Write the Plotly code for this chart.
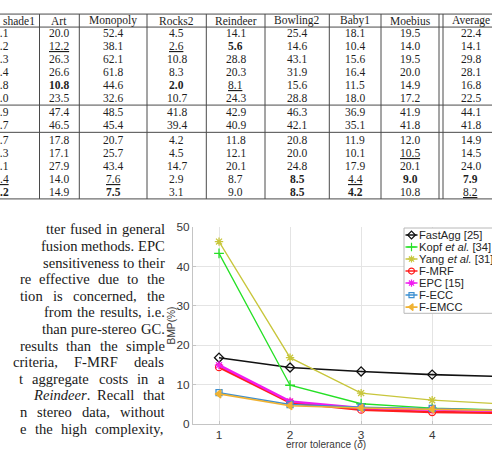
import plotly.graph_objects as go

W, H = 492, 456

# ---------------- chart data ----------------
tolerance = [1, 2, 3, 4, 5]
fastagg = [16.8, 14.3, 13.3, 12.5, 12.0]
kopf = [43.3, 9.8, 5.1, 4.0, 3.5]
yang = [46.3, 16.8, 7.8, 6.0, 5.05]
f_mrf = [14.4, 5.4, 3.6, 3.0, 2.75]
epc = [14.9, 5.7, 4.0, 3.7, 3.25]
f_ecc = [7.9, 4.9, 4.2, 3.9, 3.45]
f_emcc = [7.6, 4.6, 4.0, 3.7, 3.35]
series_names = ["FastAgg [25]", "Kopf <i>et al.</i> [34]", "Yang <i>et al.</i> [31]",
                "F-MRF", "EPC [15]", "F-ECC", "F-EMCC"]
x_ticks = [1, 2, 3, 4, 5]
y_ticks = [0, 10, 20, 30, 40, 50]
x_title = "error tolerance (<i>δ</i>)"
y_title = "BMP(%)"

# ---------------- table data ----------------
table_header = ["shade1", "Art", "Monopoly", "Rocks2", "Reindeer", "Bowling2", "Baby1", "Moebius", "Average"]
col_shade1 = ["5.1", "5.2", "2.3", "9.4", "6.8", "5.0", "6.9", "5.7", "0.7", "6.3", "5.1", ".4", ".2"]
col_art = ["20.0", "12.2", "26.3", "26.6", "10.8", "23.5", "47.4", "46.5", "17.8", "17.1", "27.9", "14.0", "14.9"]
col_monopoly = ["52.4", "38.1", "62.1", "61.8", "44.6", "32.6", "48.5", "45.4", "20.7", "25.7", "43.4", "7.6", "7.5"]
col_rocks2 = ["4.5", "2.6", "10.8", "8.3", "2.0", "10.7", "41.8", "39.4", "4.2", "4.5", "14.7", "2.9", "3.1"]
col_reindeer = ["14.1", "5.6", "28.8", "20.3", "8.1", "24.3", "42.9", "40.9", "11.8", "12.1", "20.1", "8.7", "9.0"]
col_bowling2 = ["25.4", "14.6", "43.1", "31.9", "15.6", "28.8", "46.3", "42.1", "20.8", "20.0", "24.8", "8.5", "8.5"]
col_baby1 = ["18.1", "10.4", "15.6", "16.4", "11.5", "18.0", "36.9", "35.1", "11.9", "10.1", "17.9", "4.4", "4.2"]
col_moebius = ["19.5", "14.0", "19.5", "20.0", "14.9", "17.2", "41.9", "41.8", "12.0", "10.5", "20.1", "9.0", "10.8"]
col_average = ["22.4", "14.1", "29.8", "28.1", "16.8", "22.5", "44.1", "41.8", "14.9", "14.5", "24.0", "7.9", "8.2"]
table_cols = [col_shade1, col_art, col_monopoly, col_rocks2, col_reindeer,
              col_bowling2, col_baby1, col_moebius, col_average]

# ---------------- paragraph text (visible part) ----------------
paragraph = [
    "tter fused in general",
    "fusion methods. EPC",
    "sensitiveness to their",
    "re effective due to the",
    "tion is concerned, the",
    "from the results, i.e.",
    "than pure-stereo GC.",
    "results than the simple",
    "criteria, F-MRF deals",
    "t aggregate costs in a",
    "<i>Reindeer</i>. Recall that",
    "n stereo data, without",
    "e the high complexity,",
]

# ================= styling / layout constants =================
def fx(px):
    return px / W


def fy(py):
    return 1 - py / H


SANS = "Liberation Sans, Arial, Helvetica, sans-serif"
SERIF = "Liberation Serif, Times New Roman, serif"

styles = [
    dict(color="#111111", width=1.6, symbol="diamond-open", size=7),
    dict(color="#26e026", width=1.3, symbol="cross-thin-open", size=7),
    dict(color="#c8c63c", width=1.3, symbol="asterisk-open", size=7),
    dict(color="#ff1e1e", width=2.5, symbol="circle-open", size=7),
    dict(color="#f01cf0", width=2.5, symbol="asterisk-open", size=7),
    dict(color="#3d8fd0", width=1.6, symbol="square-open", size=6),
    dict(color="#f0b232", width=1.6, symbol="triangle-left", size=7),
]
series = [fastagg, kopf, yang, f_mrf, epc, f_ecc, f_emcc]

fig = go.Figure()

for vals, name, st in zip(series, series_names, styles):
    fig.add_trace(go.Scatter(
        x=tolerance, y=vals, mode="lines+markers", name=name, showlegend=False,
        line=dict(color=st["color"], width=st["width"]),
        marker=dict(symbol=st["symbol"], size=st["size"], color=st["color"],
                    line=dict(color=st["color"], width=1.3)),
        xaxis="x", yaxis="y",
    ))

# ---- custom legend (pixel-unit overlay axes) ----
LEG_L, LEG_R, LEG_T, LEG_B = 404, 530, 228, 316
ROW0, ROWH = 235.2, 12.4
SAMP_L, SAMP_R, TEXT_X = 405.5, 417.5, 418
fig.add_trace(go.Scatter(
    x=[LEG_L, LEG_R, LEG_R, LEG_L, LEG_L], y=[LEG_T, LEG_T, LEG_B, LEG_B, LEG_T],
    mode="lines", fill="toself", fillcolor="white",
    line=dict(color="#b8b8b8", width=1), hoverinfo="skip", showlegend=False,
    xaxis="x2", yaxis="y2"))
for i, (name, st) in enumerate(zip(series_names, styles)):
    yy = ROW0 + ROWH * i
    fig.add_trace(go.Scatter(
        x=[SAMP_L, SAMP_R], y=[yy, yy], mode="lines",
        line=dict(color=st["color"], width=min(st["width"], 1.6)),
        hoverinfo="skip", showlegend=False, xaxis="x2", yaxis="y2"))
    fig.add_trace(go.Scatter(
        x=[(SAMP_L + SAMP_R) / 2], y=[yy], mode="markers",
        marker=dict(symbol=st["symbol"], size=st["size"] - 1, color=st["color"],
                    line=dict(color=st["color"], width=1.2)),
        hoverinfo="skip", showlegend=False, xaxis="x2", yaxis="y2"))
    fig.add_annotation(x=fx(TEXT_X), y=fy(yy), xref="paper", yref="paper",
                       text=name, showarrow=False, xanchor="left", yanchor="middle",
                       font=dict(family=SANS, size=11.2, color="#262626"), borderpad=0)

# ---- axes ----
PLOT_L, PLOT_T, PLOT_B = 193, 227, 430
axis_common = dict(showgrid=True, gridcolor="#e4e4e4", gridwidth=1, zeroline=False,
                   showline=True, linecolor="#c4c4c4", linewidth=1,
                   ticks="inside", ticklen=3, tickcolor="#c4c4c4",
                   tickfont=dict(family=SANS, size=11.8, color="#383838"))
fig.update_layout(
    width=W, height=H, margin=dict(l=0, r=0, t=0, b=0),
    paper_bgcolor="white", plot_bgcolor="white", showlegend=False,
    xaxis=dict(domain=[fx(PLOT_L), 1], range=[0.634, 4.842], tickvals=x_ticks,
               ticktext=[str(v) for v in x_ticks], anchor="y", **axis_common),
    yaxis=dict(domain=[fy(PLOT_B), fy(PLOT_T)], range=[0, 50], tickvals=y_ticks,
               ticktext=[str(v) for v in y_ticks], anchor="x", **axis_common),
    xaxis2=dict(overlaying="x", range=[PLOT_L, W], visible=False, anchor="y2"),
    yaxis2=dict(overlaying="y", range=[PLOT_B, PLOT_T], visible=False, anchor="x2"),
)

fig.add_annotation(x=fx(325.5), y=fy(451.5), xref="paper", yref="paper", text=x_title,
                   showarrow=False, xanchor="center", yanchor="middle", borderpad=0,
                   font=dict(family=SANS, size=10, color="#383838"))
fig.add_annotation(x=fx(171), y=fy(328.5), xref="paper", yref="paper", text=y_title,
                   showarrow=False, textangle=-90, xanchor="center", yanchor="middle",
                   borderpad=0, font=dict(family=SANS, size=10.2, color="#383838"))

# ---- table ----
TFONT = 11.5
hdr_y = 14.0
row_y = [27.0, 40.4, 53.8, 67.2, 80.6, 94.0, 108.5, 122.0, 136.8, 150.3, 163.8, 177.3, 190.7]
hlines = [7.3, 20.7, 101.2, 129.3, 198.0]
vlines = [39.5, 79.3, 147.0, 206.3, 265.0, 329.3, 381.0, 439.0, 443.0]
col_x = [None, 59.4, 113.2, 176.7, 235.7, 297.2, 355.2, 410.0, 470.5]
bold_cells = {(1, 4), (4, 1), (4, 3), (11, 5), (11, 7), (11, 8), (12, 0), (12, 2), (12, 5), (12, 6)}
under_cells = {(1, 1), (1, 3), (4, 4), (9, 7), (11, 0), (11, 2), (11, 6), (12, 8)}

for yv in hlines:
    fig.add_shape(type="line", xref="paper", yref="paper", x0=fx(-5), x1=fx(W + 5),
                  y0=fy(yv), y1=fy(yv), line=dict(color="#4a4a4a", width=1))
for xv in vlines:
    fig.add_shape(type="line", xref="paper", yref="paper", x0=fx(xv), x1=fx(xv),
                  y0=fy(hlines[0]), y1=fy(hlines[-1]), line=dict(color="#4a4a4a", width=1))


def cell(text, c, yv):
    if c == 0:
        xa, xanchor = 10.0, "right"
    else:
        xa, xanchor = col_x[c], "center"
    fig.add_annotation(x=fx(xa), y=fy(yv), xref="paper", yref="paper", text=text,
                       showarrow=False, xanchor=xanchor, yanchor="middle", borderpad=0,
                       font=dict(family=SERIF, size=TFONT, color="#1e1e1e"))


for c, h in enumerate(table_header):
    if c == 0:
        fig.add_annotation(x=fx(36), y=fy(hdr_y), xref="paper", yref="paper", text=h,
                           showarrow=False, xanchor="right", yanchor="middle", borderpad=0,
                           font=dict(family=SERIF, size=TFONT, color="#1e1e1e"))
    else:
        cell(h, c, hdr_y)
for c, col in enumerate(table_cols):
    for r, v in enumerate(col):
        t = v
        if (r, c) in bold_cells:
            t = "<b>" + t + "</b>"
        if (r, c) in under_cells:
            t = "<u>" + t + "</u>"
        cell(t, c, row_y[r])

# ---- paragraph (justified word placement with Times metrics) ----
TIMES = {" ": 250, ",": 250, ".": 250, "-": 333, "(": 333, ")": 333,
         "C": 667, "E": 611, "F": 556, "G": 722, "M": 889, "P": 556, "R": 667,
         "a": 444, "b": 500, "c": 444, "d": 500, "e": 444, "f": 333, "g": 500, "h": 500,
         "i": 278, "j": 278, "k": 500, "l": 278, "m": 778, "n": 500, "o": 500, "p": 500,
         "q": 500, "r": 333, "s": 389, "t": 278, "u": 500, "v": 500, "w": 722, "x": 500,
         "y": 500, "z": 444}
TIMES_IT = {"R": 611, "r": 389}
PFONT = 14.6
PAR_RIGHT = 164.5
par_left = [46, 47, 47, 20, 20, 44, 44, 20, 13, 19, 33, 20, 20]
par_y = [229.3, 246.5, 263.6, 280.8, 297.9, 315.1, 332.2, 349.4, 366.5, 383.7, 400.8, 418.0, 435.1]


def word_width(w):
    italic = False
    tot = 0
    i = 0
    while i < len(w):
        if w.startswith("<i>", i):
            italic = True
            i += 3
            continue
        if w.startswith("</i>", i):
            italic = False
            i += 4
            continue
        ch = w[i]
        if italic and ch in TIMES_IT:
            tot += TIMES_IT[ch]
        else:
            tot += TIMES.get(ch, 500)
        i += 1
    return tot / 1000 * PFONT


for line, left, yv in zip(paragraph, par_left, par_y):
    words = line.split(" ")
    widths = [word_width(w) for w in words]
    ng = len(words) - 1
    gap = (PAR_RIGHT - left - sum(widths)) / ng if ng else 0
    if gap < 0.2 * PFONT:
        gap = 0.25 * PFONT
        left = PAR_RIGHT - sum(widths) - gap * ng
    x = left
    for w, wd in zip(words, widths):
        fig.add_annotation(x=fx(x), y=fy(yv), xref="paper", yref="paper", text=w,
                           showarrow=False, xanchor="left", yanchor="middle", borderpad=0,
                           borderwidth=0,
                           font=dict(family=SERIF, size=PFONT, color="#1a1a1a"))
        x += wd + gap

fig.write_html("out.html", config={"displayModeBar": False})
